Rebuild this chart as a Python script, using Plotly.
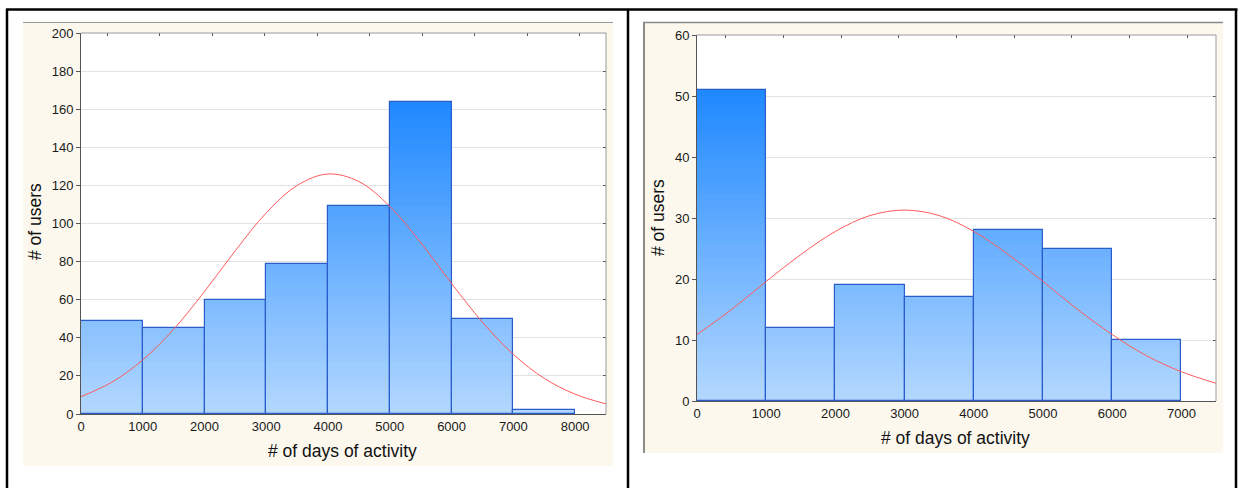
import plotly.graph_objects as go

W, H = 1240, 488

# ---------------- data ----------------
left_bin_starts = [0, 1000, 2000, 3000, 4000, 5000, 6000, 7000]
left_counts = [49, 45, 60, 79, 109, 164, 50, 2]
left_curve_x = [0, 500, 1000, 1500, 2000, 2500, 3000, 3500, 4000, 4500,
                5000, 5500, 6000, 6500, 7000, 7500, 8000, 8500]
left_curve_y = [9.1, 16.7, 28.4, 44.5, 64.3, 85.8, 105.6, 120, 126, 122,
                109, 90, 68.5, 48.2, 31.3, 18.7, 10.4, 5.3]

right_bin_starts = [0, 1000, 2000, 3000, 4000, 5000, 6000]
right_counts = [51, 12, 19, 17, 28, 25, 10]
right_curve_x = [0, 500, 1000, 1500, 2000, 2500, 3000, 3500, 4000, 4500,
                 5000, 5500, 6000, 6500, 7000, 7500]
right_curve_y = [10.9, 15.0, 19.6, 24.0, 27.8, 30.4, 31.3, 30.4, 27.8, 24.0,
                 19.6, 15.0, 10.9, 7.4, 4.8, 2.9]

left_x_ticks = [0, 1000, 2000, 3000, 4000, 5000, 6000, 7000, 8000]
right_x_ticks = [0, 1000, 2000, 3000, 4000, 5000, 6000, 7000]
x_title = "# of days of activity"
y_title = "# of users"

BIN_W = 1000
L_XMAX, L_YMAX = 8500, 200
R_XMAX, R_YMAX = 7500, 60

fig = go.Figure()

def px_x(p):
    return p / W

def px_y(p):
    return 1 - p / H

TOP_C = (30, 136, 255)
BOT_C = (180, 216, 255)

def add_hist(starts, counts, xa, ya, nbands=48):
    vmax = max(counts)
    centers = [s + BIN_W / 2 for s in starts]
    bh = vmax / nbands
    for k in range(nbands):
        lo = k * bh
        t = (k + 0.5) / nbands
        c = tuple(int(round(BOT_C[i] + (TOP_C[i] - BOT_C[i]) * t)) for i in range(3))
        ys = [max(0.0, min(v - lo, bh)) for v in counts]
        fig.add_trace(go.Bar(
            x=centers, y=ys, base=[lo] * len(counts), width=BIN_W,
            marker=dict(color=f"rgb{c}", line=dict(width=0)),
            xaxis=xa, yaxis=ya, showlegend=False, hoverinfo="skip"))
    fig.add_trace(go.Bar(
        x=centers, y=counts, width=BIN_W,
        marker=dict(color="rgba(0,0,0,0)", line=dict(color="#2a5ccc", width=1.2)),
        xaxis=xa, yaxis=ya, showlegend=False))

add_hist(left_bin_starts, left_counts, "x", "y")
fig.add_trace(go.Scatter(x=left_curve_x, y=left_curve_y, mode="lines",
                         line=dict(color="#ff5a5a", width=1, shape="spline"),
                         xaxis="x", yaxis="y", showlegend=False))
add_hist(right_bin_starts, right_counts, "x2", "y2")
fig.add_trace(go.Scatter(x=right_curve_x, y=right_curve_y, mode="lines",
                         line=dict(color="#ff5a5a", width=1, shape="spline"),
                         xaxis="x2", yaxis="y2", showlegend=False))

font_tick = dict(family="Liberation Sans, Arial, sans-serif", size=13, color="#1a1a1a")
font_title = dict(family="Liberation Sans, Arial, sans-serif", size=17.5, color="#111")

def xaxis(domain, rng, ticks, anchor):
    return dict(domain=domain, range=rng, tickvals=ticks, ticktext=[str(t) for t in ticks],
                showgrid=False, zeroline=False, showline=True, linecolor="#555", linewidth=1,
                ticks="", tickfont=font_tick, anchor=anchor, mirror=False, fixedrange=True,
                automargin=False)

def yaxis(domain, rng, dtick, anchor):
    return dict(domain=domain, range=rng, dtick=dtick, showgrid=True, gridcolor="#e2e2e2",
                gridwidth=1, zeroline=False, showline=True, linecolor="#555", linewidth=1,
                ticks="outside", ticklen=4, tickcolor="#555", tickfont=font_tick,
                anchor=anchor, fixedrange=True, automargin=False)

def top_ticks(over, rng, ndiv, anchor):
    step = rng[1] / ndiv
    return dict(overlaying=over, range=rng, anchor=anchor, side="top",
                tickvals=[(k + 0.5) * step for k in range(ndiv)], ticks="inside", ticklen=3,
                tickcolor="#555", showticklabels=False, showgrid=False, zeroline=False,
                showline=False, fixedrange=True, automargin=False)

def right_ticks(over, rng, dtick, anchor):
    return dict(overlaying=over, range=rng, anchor=anchor, side="right", dtick=dtick,
                ticks="inside", ticklen=3, tickcolor="#555", showticklabels=False,
                showgrid=False, zeroline=False, showline=False, fixedrange=True,
                automargin=False)

L_dom_x = [px_x(81), px_x(606)]
L_dom_y = [px_y(414), px_y(33)]
R_dom_x = [px_x(697), px_x(1216)]
R_dom_y = [px_y(401), px_y(35)]

# invisible helper traces to activate tick-only overlay axes
fig.add_trace(go.Scatter(x=[None], y=[None], xaxis="x3", yaxis="y3", showlegend=False))
fig.add_trace(go.Scatter(x=[None], y=[None], xaxis="x4", yaxis="y4", showlegend=False))

fig.update_layout(
    width=W, height=H, margin=dict(l=0, r=0, t=0, b=0, pad=0, autoexpand=False),
    paper_bgcolor="white", plot_bgcolor="white", barmode="overlay", bargap=0,
    showlegend=False,
    xaxis=xaxis(L_dom_x, [0, L_XMAX], left_x_ticks, "y"),
    yaxis=yaxis(L_dom_y, [0, L_YMAX], 20, "x"),
    xaxis2=xaxis(R_dom_x, [0, R_XMAX], right_x_ticks, "y2"),
    yaxis2=yaxis(R_dom_y, [0, R_YMAX], 10, "x2"),
    xaxis3=top_ticks("x", [0, L_XMAX], 10, "y3"),
    yaxis3=right_ticks("y", [0, L_YMAX], 20, "x3"),
    xaxis4=top_ticks("x2", [0, R_XMAX], 9, "y4"),
    yaxis4=right_ticks("y2", [0, R_YMAX], 10, "x4"),
)

shapes = []
# cream chart backgrounds
shapes.append(dict(type="rect", xref="paper", yref="paper", x0=px_x(23), x1=px_x(613),
                   y0=px_y(466), y1=px_y(22), fillcolor="#fcf8ee", line=dict(width=0), layer="below"))
shapes.append(dict(type="rect", xref="paper", yref="paper", x0=px_x(643), x1=px_x(1223),
                   y0=px_y(453), y1=px_y(22), fillcolor="#fcf8ee", line=dict(width=0), layer="below"))
# plot area white
for dx, dy in ((L_dom_x, L_dom_y), (R_dom_x, R_dom_y)):
    shapes.append(dict(type="rect", xref="paper", yref="paper", x0=dx[0], x1=dx[1],
                       y0=dy[0], y1=dy[1], fillcolor="white", line=dict(width=0), layer="below"))
# grey frame lines of chart images
shapes.append(dict(type="line", xref="paper", yref="paper", x0=px_x(23), x1=px_x(613),
                   y0=px_y(22.5), y1=px_y(22.5), line=dict(color="#9a9a9a", width=1)))
shapes.append(dict(type="line", xref="paper", yref="paper", x0=px_x(643), x1=px_x(1223),
                   y0=px_y(22.5), y1=px_y(22.5), line=dict(color="#8a8a8a", width=1.5)))
shapes.append(dict(type="line", xref="paper", yref="paper", x0=px_x(644), x1=px_x(644),
                   y0=px_y(453), y1=px_y(22), line=dict(color="#8a8a8a", width=2)))
# right/top plot frame (lighter)
for dx, dy in ((L_dom_x, L_dom_y), (R_dom_x, R_dom_y)):
    shapes.append(dict(type="line", xref="paper", yref="paper", x0=dx[1], x1=dx[1],
                       y0=dy[0], y1=dy[1], line=dict(color="#9a9a9a", width=1)))
    shapes.append(dict(type="line", xref="paper", yref="paper", x0=dx[0], x1=dx[1],
                       y0=dy[1], y1=dy[1], line=dict(color="#9a9a9a", width=1)))
# table borders
for xp in (7, 628, 1236):
    shapes.append(dict(type="line", xref="paper", yref="paper", x0=px_x(xp), x1=px_x(xp),
                       y0=0, y1=px_y(9), line=dict(color="black", width=2.5)))
shapes.append(dict(type="line", xref="paper", yref="paper", x0=px_x(6), x1=px_x(1237.5),
                   y0=px_y(9.5), y1=px_y(9.5), line=dict(color="black", width=2.5)))
fig.update_layout(shapes=shapes)

annotations = [
    dict(text=x_title, xref="paper", yref="paper", x=px_x(342), y=px_y(451),
         showarrow=False, font=font_title, xanchor="center", yanchor="middle"),
    dict(text=x_title, xref="paper", yref="paper", x=px_x(955), y=px_y(438),
         showarrow=False, font=font_title, xanchor="center", yanchor="middle"),
    dict(text=y_title, xref="paper", yref="paper", x=px_x(35), y=px_y(222),
         showarrow=False, font=font_title, textangle=-90, xanchor="center", yanchor="middle"),
    dict(text=y_title, xref="paper", yref="paper", x=px_x(658), y=px_y(218),
         showarrow=False, font=font_title, textangle=-90, xanchor="center", yanchor="middle"),
]
fig.update_layout(annotations=annotations)

fig.write_html(
    "out.html",
    config={"displayModeBar": False},
    post_script="document.body.style.margin='0';document.body.style.overflow='hidden';"
                "document.documentElement.style.overflow='hidden';",
)
